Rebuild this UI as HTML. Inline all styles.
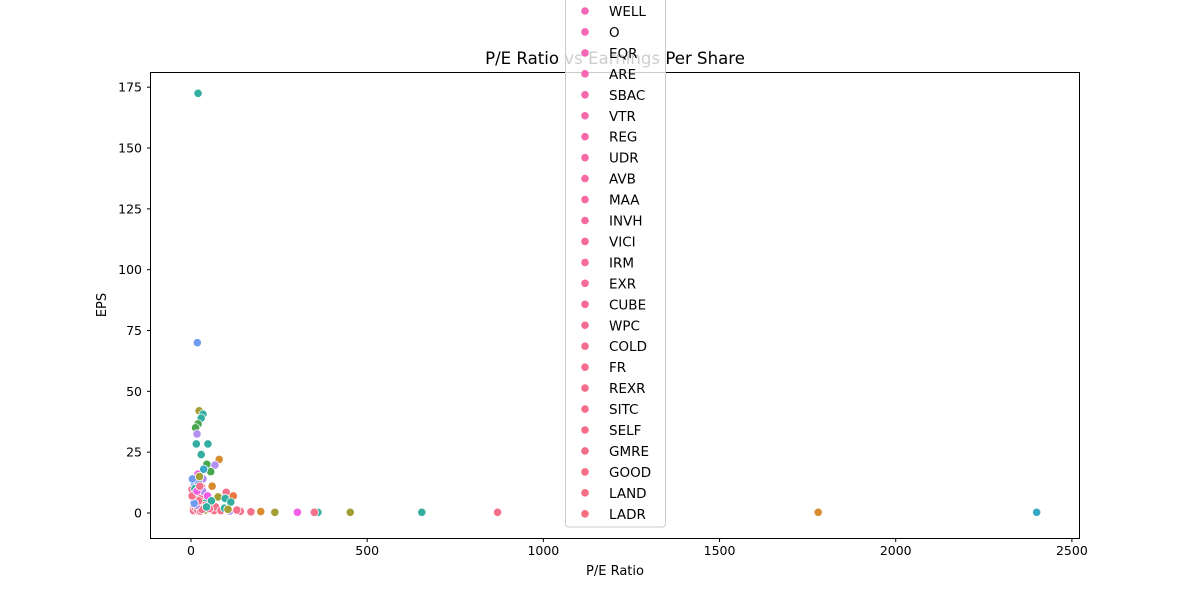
<!DOCTYPE html>
<html><head><meta charset="utf-8"><style>
body{margin:0;background:#fff;}
svg{display:block;font-family:"DejaVu Sans","Liberation Sans",sans-serif;}
</style></head><body>
<svg id="chart" width="1200" height="600" viewBox="0 0 1200 600">
<rect x="0" y="0" width="1200" height="600" fill="#fff"/>
<text x="615" y="64" font-size="16.6" text-anchor="middle" fill="#000">P/E Ratio vs Earnings Per Share</text>
<g id="points"></g>
<rect x="150.5" y="72.5" width="929" height="466" fill="none" stroke="#000" stroke-width="1"/>
<g id="xticks"></g>
<g id="yticks"></g>
<text x="615" y="575" font-size="13" text-anchor="middle">P/E Ratio</text>
<text x="106" y="305" font-size="13" text-anchor="middle" transform="rotate(-90 106 305)">EPS</text>
<g id="legend"></g>
</svg>
<script>
const peValues=[20,18,2400,1780,870,655,452,360,350,302,238,198,170,140,23,34,29,20,13,17,15,48,29,80,45,68,56,20,34,60,3,30,100,120,77,97,113,30,110,92,5,8,12,15,18,22,25,28,35,40,45,50,55,60,65,70,10,14,26,33,42,52,6,9,16,21,38,47,58,4,11,24,30,36,85,95,105,130,7,12,19,27,31,15,22,44,9,3,17,25];
const epsValues=[172.5,70,0.3,0.3,0.3,0.3,0.3,0.3,0.3,0.3,0.3,0.6,0.5,0.7,42,40.6,39,36.6,35,32.5,28.4,28.4,24,22,20,19.7,17,16,14,11,9.8,10.8,8.5,7,6.6,6,4.5,7.7,0.8,1.6,2,3,1.5,5,4,2.5,1,3.5,2,1.2,6,3,2.2,1.4,1,2.5,12,8,6.5,9,4.2,1.8,1,6,0.8,12.5,3,7,5,14,10,15,2,18,1,2,1.5,1.2,1,2.2,1.2,0.8,1.5,3.2,5,2.5,4,7,9,11];
const colorIdx=[5,7,6,1,0,5,3,5,0,9,3,1,0,0,3,5,5,4,4,8,5,5,5,1,4,8,4,9,8,1,0,0,0,2,3,5,5,0,8,0,0,0,0,6,6,0,0,7,0,3,5,0,0,8,0,0,7,6,0,8,5,0,0,4,0,7,0,9,5,7,5,3,0,6,0,5,3,0,0,0,0,0,0,8,0,5,7,0,9,0];
const palette=['#f5708a','#d88c2f','#e8783f','#a19e34','#48a64d','#33aea0','#38a8c8','#6f9cf0','#b38ff0','#f35ce6'];
const legendLabels=['WELL','O','EQR','ARE','SBAC','VTR','REG','UDR','AVB','MAA','INVH','VICI','IRM','EXR','CUBE','WPC','COLD','FR','REXR','SITC','SELF','GMRE','GOOD','LAND','LADR'];
const legendColors=['#f566b8','#f566b6','#f567b3','#f567b1','#f568ae','#f568ac','#f569a9','#f569a7','#f569a4','#f56aa2','#f56a9f','#f56a9d','#f56b9a','#f56b98','#f56b95','#f56c93','#f56c91','#f56c8f','#f56d8d','#f56d8b','#f56d89','#f56e87','#f56e85','#f56e83','#f66f81'];
const xTicks=[0,500,1000,1500,2000,2500];
const yTicks=[0,25,50,75,100,125,150,175];
const NS='http://www.w3.org/2000/svg';
function xs(v){return 191+v*0.35236;}
function ys(v){return 513-v*2.4332;}
const pg=document.getElementById('points');
for(let i=0;i<peValues.length;i++){
  const c=document.createElementNS(NS,'circle');
  c.setAttribute('cx',xs(peValues[i]));c.setAttribute('cy',ys(epsValues[i]));c.setAttribute('r',4.2);
  c.setAttribute('fill',palette[colorIdx[i]]);c.setAttribute('stroke','#fff');c.setAttribute('stroke-width',0.8);
  
  
  pg.appendChild(c);
}
const xg=document.getElementById('xticks');
xTicks.forEach(t=>{
  const x=xs(t);
  const l=document.createElementNS(NS,'line');
  l.setAttribute('x1',x);l.setAttribute('x2',x);l.setAttribute('y1',538.5);l.setAttribute('y2',542);l.setAttribute('stroke','#000');
  
  
  xg.appendChild(l);
  const tx=document.createElementNS(NS,'text');
  tx.setAttribute('x',x);tx.setAttribute('y',555);tx.setAttribute('font-size','12.5');tx.setAttribute('text-anchor','middle');tx.textContent=t;
  
  
  xg.appendChild(tx);
});
const yg=document.getElementById('yticks');
yTicks.forEach(t=>{
  const y=ys(t);
  const l=document.createElementNS(NS,'line');
  l.setAttribute('x1',147);l.setAttribute('x2',150.5);l.setAttribute('y1',y);l.setAttribute('y2',y);l.setAttribute('stroke','#000');
  
  
  yg.appendChild(l);
  const tx=document.createElementNS(NS,'text');
  tx.setAttribute('x',142);tx.setAttribute('y',y+4.5);tx.setAttribute('font-size','12.5');tx.setAttribute('text-anchor','end');tx.textContent=t;
  
  
  yg.appendChild(tx);
});
const lg=document.getElementById('legend');
const bg=document.createElementNS(NS,'rect');
bg.setAttribute('x',565.5);bg.setAttribute('y',-10);bg.setAttribute('width',100);bg.setAttribute('height',537);bg.setAttribute('rx',3);
bg.setAttribute('fill','rgba(255,255,255,0.8)');bg.setAttribute('stroke','#ccc');


lg.appendChild(bg);
legendLabels.forEach((lab,i)=>{
  const y=11+i*20.95;
  const c=document.createElementNS(NS,'circle');
  c.setAttribute('cx',585);c.setAttribute('cy',y);c.setAttribute('r',3.8);c.setAttribute('fill',legendColors[i]);
  
  
  lg.appendChild(c);
  const t=document.createElementNS(NS,'text');
  t.setAttribute('x',609);t.setAttribute('y',y+5);t.setAttribute('font-size','13.5');t.textContent=lab;
  
  
  lg.appendChild(t);
});
</script>
</body></html>
